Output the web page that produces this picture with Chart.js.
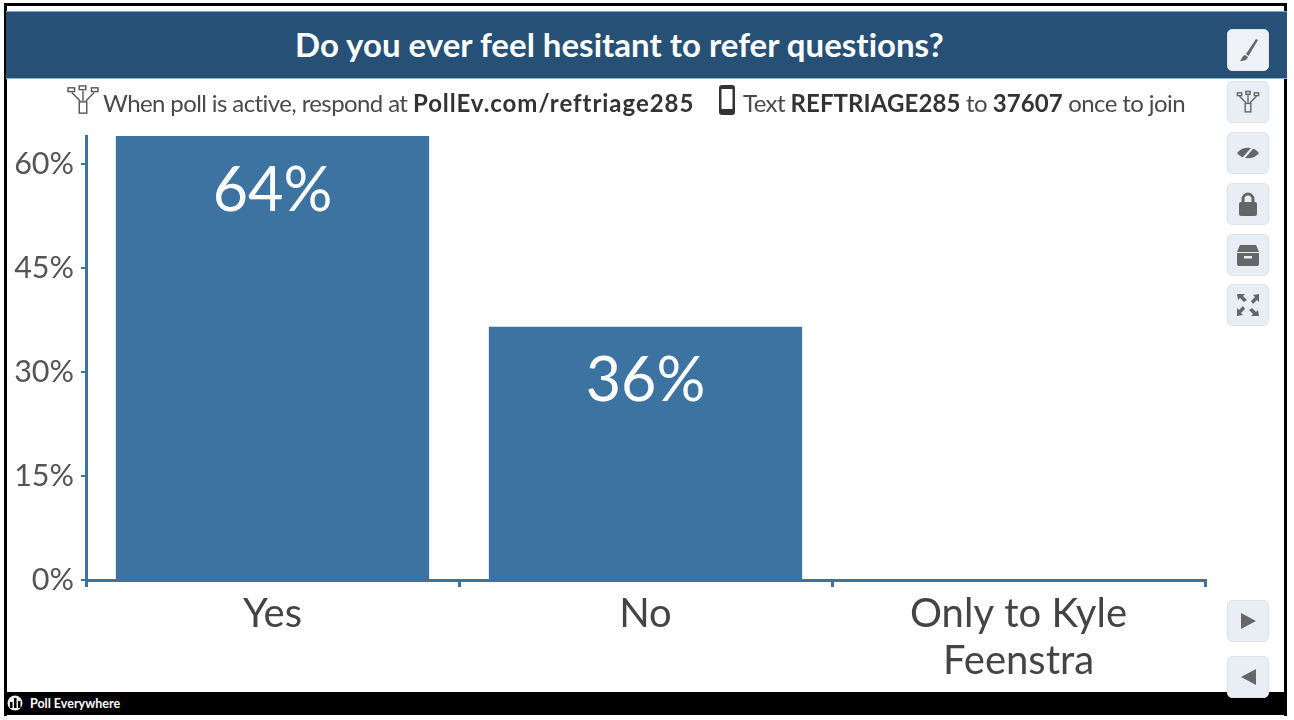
<!DOCTYPE html>
<html><head><meta charset="utf-8">
<script src="https://cdn.jsdelivr.net/npm/chart.js@4/dist/chart.umd.min.js"></script>
<style>
html,body{margin:0;padding:0;background:#fff;width:1294px;height:720px;overflow:hidden;font-family:Lato,sans-serif}
#wrap{position:absolute;left:0;top:0;width:1294px;height:720px;filter:blur(0.45px)}
#frame{position:absolute;left:4px;top:3px;width:1283px;height:713px;box-sizing:border-box;border:solid #000;border-width:3px 3px 0 3px}
#head{position:absolute;left:6px;top:11px;width:1281px;height:68px;background:#265075;border-top:1px solid #7fa6c4;border-bottom:1px solid #8fb4d0;box-sizing:border-box;color:#fff;font-weight:700;font-size:33px}
#head span{position:absolute;left:289px;top:12px;white-space:nowrap;letter-spacing:.01px}
#sub,#sub2{position:absolute;top:88px;white-space:nowrap;color:#4a4a4a;font-size:24px;letter-spacing:-.6px}
#sub{left:103px}#sub2{left:743px}
#sub b,#sub2 b{color:#333}
#sub b{letter-spacing:.95px}
#sub2 b{letter-spacing:.1px}
#foot{position:absolute;left:6px;top:692px;width:1281px;height:23px;background:#000;color:#fff;font-size:12.5px;font-weight:700}
#foot span{position:absolute;left:24px;top:4px;white-space:nowrap}
#foot svg{position:absolute;left:1px;top:3px}
.btn{position:absolute;left:1227px;width:42px;height:42px;background:#e9eef4;border:1px solid #dce3ea;border-radius:5px;box-sizing:border-box;display:flex;align-items:center;justify-content:center}
canvas{position:absolute;left:0;top:0}
svg.i{display:block}
</style></head><body>
<div id="wrap">
<div id="frame"></div>
<canvas id="c" width="1294" height="720"></canvas>
<div id="head"><span>Do you ever feel hesitant to refer questions?</span></div>
<svg class="i" style="position:absolute;left:67px;top:85px" width="32" height="30" viewBox="0 0 34 32" fill="none" stroke="#555" stroke-width="1.5"><rect x="1" y="3" width="7" height="4"/><rect x="13" y="1" width="7" height="4"/><rect x="26" y="3" width="7" height="4"/><path d="M5 8l9 9M17 6v11M29 8l-9 9"/><rect x="13" y="18" width="8" height="12"/></svg>
<div id="sub">When poll is active, respond at <b>PollEv.com/reftriage285</b></div>
<svg class="i" style="position:absolute;left:717px;top:84px" width="20" height="32" viewBox="0 0 20 32"><rect x="2" y="1" width="16" height="30" rx="3" fill="#333"/><rect x="4.5" y="5" width="11" height="20" fill="#fff"/></svg>
<div id="sub2">Text <b>REFTRIAGE285</b> to <b>37607</b> once to join</div>
<div id="foot"><svg width="16" height="18" viewBox="0 0 16 18"><circle cx="8" cy="8" r="7.5" fill="#eee"/><rect x="3" y="7" width="2.5" height="6" fill="#000"/><rect x="7" y="3" width="2.5" height="10" fill="#000"/><rect x="11" y="6" width="2.5" height="7" fill="#000"/></svg><span>Poll Everywhere</span></div>
<div class="btn" style="top:29px;background:#eef2f6"><svg width="24" height="26" viewBox="0 0 24 26"><path d="M20 2L10 17l2.5 2L22 3z M9 18c-3 1-3 4-5 6 4 0 7-1 8-4z" fill="#666"/></svg></div>
<div class="btn" style="top:81px"><svg width="24" height="24" viewBox="0 0 34 32" fill="none" stroke="#666" stroke-width="2"><rect x="2" y="3" width="6" height="4"/><rect x="14" y="1" width="6" height="4"/><rect x="26" y="3" width="6" height="4"/><path d="M5 8l9 9M17 6v11M29 8l-9 9"/><rect x="13" y="18" width="8" height="12"/></svg></div>
<div class="btn" style="top:132px"><svg width="24" height="18" viewBox="0 0 24 18"><path d="M1 9c5-7 17-7 22 0-5 7-17 7-22 0z" fill="#666"/><path d="M5 17L19 1" stroke="#e9eef4" stroke-width="2"/></svg></div>
<div class="btn" style="top:183px"><svg width="20" height="26" viewBox="0 0 20 26"><path d="M5 12V8a5 5 0 0 1 10 0v4" fill="none" stroke="#666" stroke-width="3"/><rect x="1" y="11" width="18" height="14" rx="2" fill="#666"/></svg></div>
<div class="btn" style="top:234px"><svg width="24" height="22" viewBox="0 0 24 22"><path d="M4 1h16l3 7H1z" fill="#666"/><path d="M1 9h22v11a2 2 0 0 1-2 2H3a2 2 0 0 1-2-2z" fill="#666"/><rect x="8" y="12" width="8" height="2.5" fill="#e9eef4"/></svg></div>
<div class="btn" style="top:284px"><svg width="24" height="24" viewBox="0 0 24 24" fill="#666"><path d="M1 1h8L7 3l4 4-3 2-4-4-2 2zM23 1v8l-2-2-4 4-2-3 4-4-2-2zM1 23v-8l2 2 4-4 2 3-4 4 2 2zM23 23h-8l2-2-4-4 3-2 4 4 2-2z"/></svg></div>
<div class="btn" style="top:600px"><svg width="18" height="20" viewBox="0 0 18 20"><path d="M2 2l15 8-15 8z" fill="#666"/></svg></div>
<div class="btn" style="top:656px"><svg width="18" height="20" viewBox="0 0 18 20"><path d="M17 2L2 10l15 8z" fill="#666"/></svg></div>
</div>
<script>
const categories = [["Yes"], ["No"], ["Only to Kyle", "Feenstra"]];
const percentValues = [64, 36.5, 0];
const percentLabels = ["64%", "36%", ""];
const yTicks = [0, 15, 30, 45, 60];
const barColor = "#3d73a0";

const valueLabels = {
  id: "valueLabels",
  afterDatasetsDraw(chart) {
    const ctx = chart.ctx;
    const bars = chart.getDatasetMeta(0).data;
    ctx.save();
    ctx.fillStyle = "#fff";
    ctx.font = '61px Lato';
    ctx.textAlign = "center";
    ctx.textBaseline = "middle";
    bars.forEach((b, i) => { if (percentLabels[i]) ctx.fillText(percentLabels[i], b.x, b.y + 55); });
    ctx.restore();
  }
};

new Chart(document.getElementById("c"), {
  type: "bar",
  data: {
    labels: categories,
    datasets: [{ data: percentValues, backgroundColor: barColor, categoryPercentage: 0.84, barPercentage: 1, borderWidth: 0 }]
  },
  options: {
    responsive: false, animation: false,
    layout: { padding: { left: 0, right: 89, top: 136, bottom: 0 } },
    plugins: { legend: { display: false }, tooltip: { enabled: false } },
    scales: {
      x: {
        afterFit(s) { s.height = 140; },
        grid: { drawOnChartArea: false, color: barColor, lineWidth: 3, tickLength: 7 },
        border: { color: barColor, width: 3 },
        ticks: { color: "#444", font: { size: 40, family: 'Lato', lineHeight: 1.18 }, padding: 3, maxRotation: 0 }
      },
      y: {
        min: 0, max: 64,
        afterFit(s) { s.width = 86; },
        afterBuildTicks(s) { s.ticks = yTicks.map(v => ({ value: v })); },
        grid: { drawOnChartArea: false, color: barColor, lineWidth: 2, tickLength: 5 },
        border: { color: barColor, width: 3 },
        ticks: { color: "#555", font: { size: 30.5, family: 'Lato' }, padding: 7, callback: v => v + "%" }
      }
    }
  },
  plugins: [valueLabels]
});
</script>
</body></html>
